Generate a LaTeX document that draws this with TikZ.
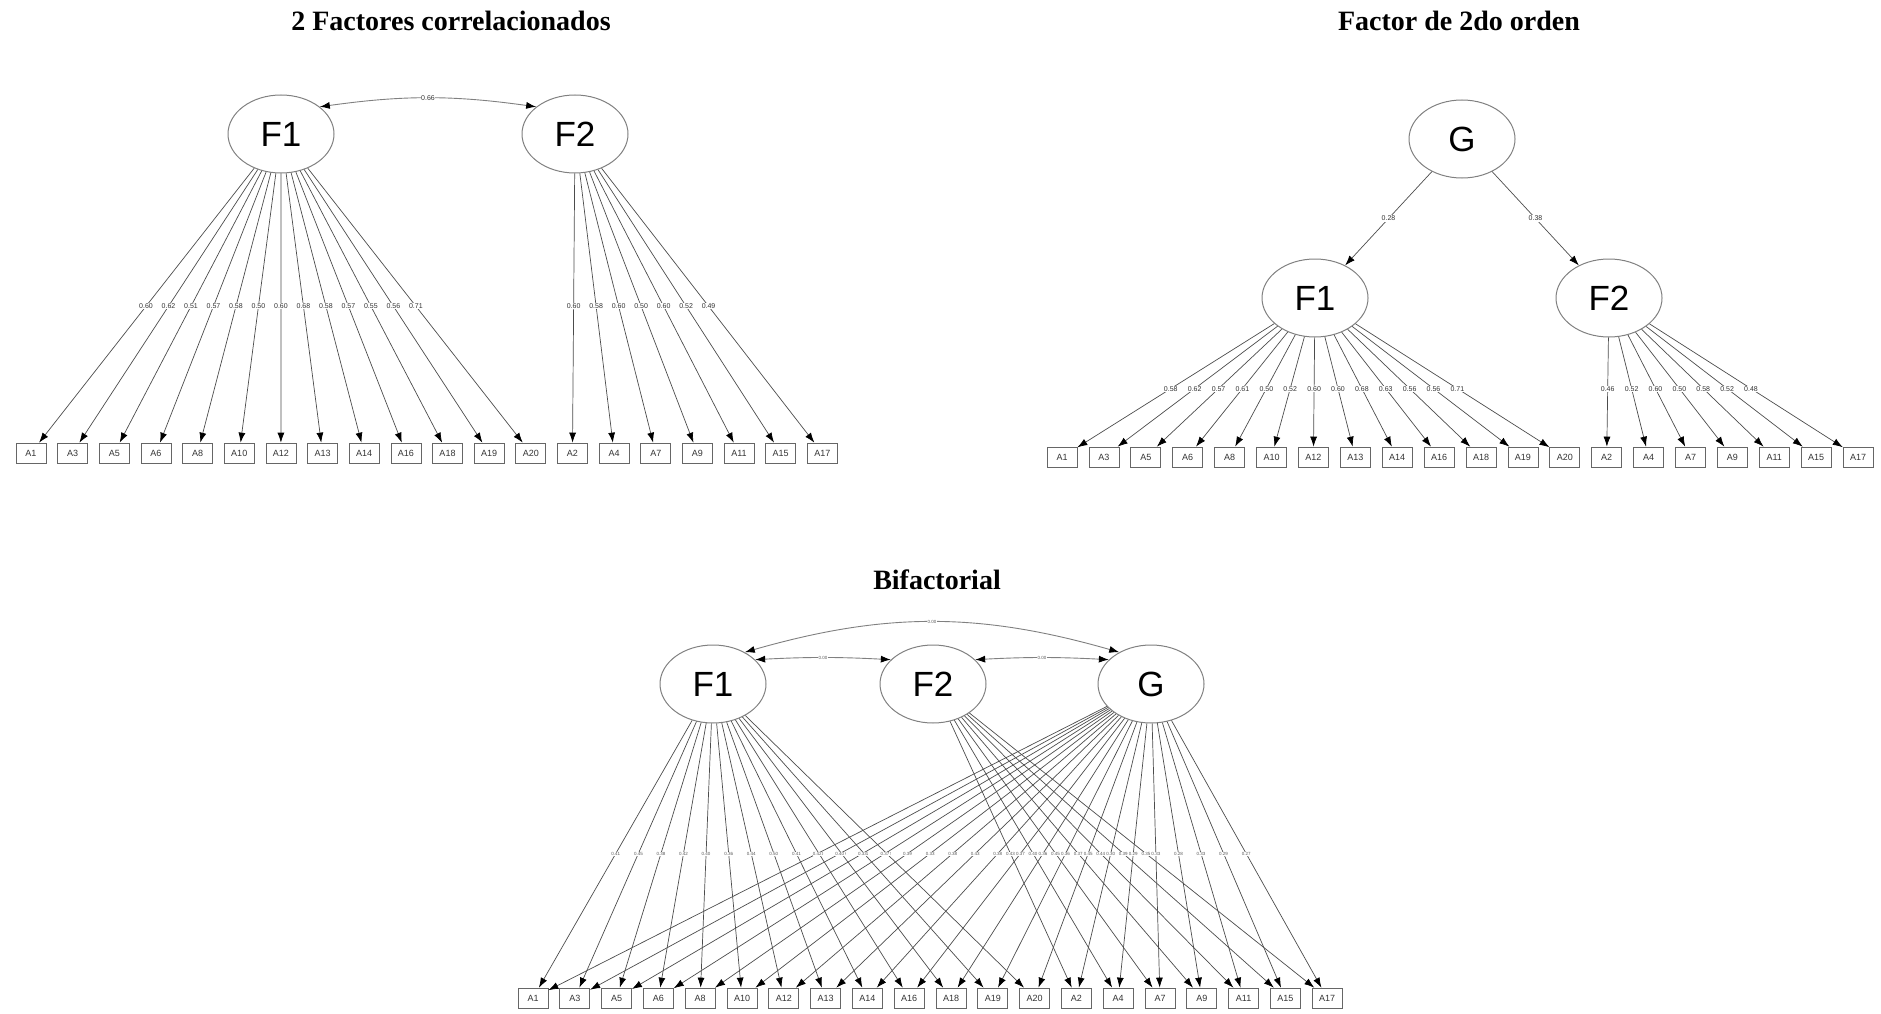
\documentclass[tikz,border=0pt]{standalone}
\usepackage{fontspec}
\setmainfont{Liberation Sans}
\newfontfamily\titlefont{Liberation Serif}
\usetikzlibrary{shapes.geometric,arrows.meta,calc}
\tikzset{
  latent/.style={ellipse,draw=black!50,line width=1pt,minimum width=106pt,minimum height=78pt,inner sep=0pt,font=\fontsize{35}{35}\selectfont},
  manifest/.style={rectangle,draw=black!60,line width=0.7pt,minimum width=30pt,minimum height=20pt,inner sep=0pt,font=\fontsize{9}{9}\selectfont,text=black!80},
  load/.style={draw=black!70,line width=0.7pt,-{Latex[length=10pt,width=7pt,color=black]}},
  corr/.style={draw=black!50,line width=0.9pt,{Latex[length=10pt,width=7pt,color=black]}-{Latex[length=10pt,width=7pt,color=black]}},
  lbl/.style={fill=white,inner sep=0.6pt,font=\fontsize{7}{7}\selectfont,text=black!80},
  slbl/.style={fill=white,inner sep=0.4pt,font=\fontsize{4.5}{4.5}\selectfont,text=black!65},
  title/.style={font=\titlefont\bfseries\fontsize{28}{28}\selectfont},
}
\begin{document}
\begin{tikzpicture}[x=1pt,y=-1pt]
\useasboundingbox (0,0) rectangle (1881,1014);
% ---------------- Panel 1 ----------------
\node[title] (t1) at (451,21) {2 Factores correlacionados};
\node[latent] (p1F1) at (281,134) {F1};
\node[latent] (p1F2) at (575,134) {F2};
\foreach \n [count=\i from 0] in {1,3,5,6,8,10,12,13,14,16,18,19,20,2,4,7,9,11,15,17}
  \node[manifest] (p1A\n) at ({31+41.65*\i},453) {A\n};
\draw[corr] (p1F1.35) to[bend left=8] node[lbl] {0.66} (p1F2.145);
\foreach \n in {1,3,5,6,8,10,12,13,14,16,18,19,20} \draw[load] (p1F1) -- (p1A\n);
\foreach \n in {2,4,7,9,11,15,17} \draw[load] (p1F2) -- (p1A\n);
\foreach \n/\v in {1/0.60,3/0.62,5/0.51,6/0.57,8/0.58,10/0.50,12/0.60,13/0.68,14/0.58,16/0.57,18/0.55,19/0.56,20/0.71}
  \node[lbl] at ($(p1F1)!0.54!(p1A\n)$) {\v};
\foreach \n/\v in {2/0.60,4/0.58,7/0.60,9/0.50,11/0.60,15/0.52,17/0.49}
  \node[lbl] at ($(p1F2)!0.54!(p1A\n)$) {\v};
% ---------------- Panel 2 ----------------
\node[title] (t2) at (1459,21) {Factor de 2do orden};
\node[latent] (p2G) at (1462,139) {G};
\node[latent] (p2F1) at (1315,298) {F1};
\node[latent] (p2F2) at (1609,298) {F2};
\foreach \n [count=\i from 0] in {1,3,5,6,8,10,12,13,14,16,18,19,20,2,4,7,9,11,15,17}
  \node[manifest] (p2A\n) at ({1062+41.9*\i},457) {A\n};
\draw[load] (p2G) -- node[lbl] {0.28} (p2F1);
\draw[load] (p2G) -- node[lbl] {0.38} (p2F2);
\foreach \n in {1,3,5,6,8,10,12,13,14,16,18,19,20} \draw[load] (p2F1) -- (p2A\n);
\foreach \n in {2,4,7,9,11,15,17} \draw[load] (p2F2) -- (p2A\n);
\foreach \n/\v in {1/0.58,3/0.62,5/0.57,6/0.61,8/0.50,10/0.52,12/0.60,13/0.60,14/0.68,16/0.63,18/0.56,19/0.56,20/0.71}
  \node[lbl] at ($(p2F1)!0.57!(p2A\n)$) {\v};
\foreach \n/\v in {2/0.46,4/0.52,7/0.60,9/0.50,11/0.58,15/0.52,17/0.48}
  \node[lbl] at ($(p2F2)!0.57!(p2A\n)$) {\v};
% ---------------- Panel 3 ----------------
\node[title] (t3) at (937,580) {Bifactorial};
\node[latent] (p3F1) at (713,684) {F1};
\node[latent] (p3F2) at (933,684) {F2};
\node[latent] (p3G) at (1151,684) {G};
\foreach \n [count=\i from 0] in {1,3,5,6,8,10,12,13,14,16,18,19,20,2,4,7,9,11,15,17}
  \node[manifest] (p3A\n) at ({533+41.8*\i},998) {A\n};
\draw[corr] (p3F1.30) to[bend left=3] node[slbl] {0.00} (p3F2.150);
\draw[corr] (p3F2.30) to[bend left=3] node[slbl] {0.00} (p3G.150);
\draw[corr] (p3F1.45) to[bend left=16] node[slbl] {0.00} (p3G.135);
\foreach \n in {1,3,5,6,8,10,12,13,14,16,18,19,20} \draw[load] (p3F1) -- (p3A\n);
\foreach \n in {2,4,7,9,11,15,17} \draw[load] (p3F2) -- (p3A\n);
\foreach \n in {1,3,5,6,8,10,12,13,14,16,18,19,20,2,4,7,9,11,15,17} \draw[load] (p3G) -- (p3A\n);
\foreach \n/\v in {1/0.41,3/0.45,5/0.38,6/0.42,8/0.40,10/0.36,12/0.44,13/0.50,14/0.41,16/0.40,18/0.39,19/0.41,20/0.52}
  \node[slbl] at ($(p3F1)!0.54!(p3A\n)$) {\v};
\foreach \n/\v in {2/0.43,4/0.40,7/0.45,9/0.37,11/0.44,15/0.39,17/0.35}
  \node[slbl] at ($(p3F2)!0.54!(p3A\n)$) {\v};
\foreach \n/\v in {1/0.42,3/0.40,5/0.33,6/0.37,8/0.39,10/0.33,12/0.38,13/0.43,14/0.38,16/0.37,18/0.36,19/0.36,20/0.45,2/0.30,4/0.29,7/0.33,9/0.28,11/0.33,15/0.29,17/0.27}
  \node[slbl] at ($(p3G)!0.54!(p3A\n)$) {\v};
\end{tikzpicture}
\end{document}
